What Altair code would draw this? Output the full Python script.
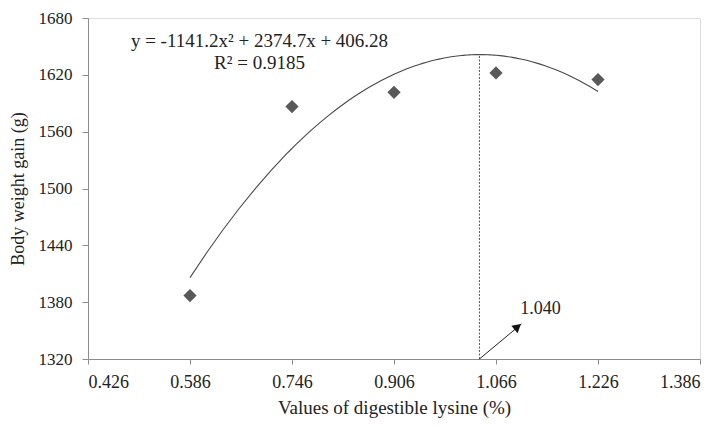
import altair as alt
import pandas as pd

# Data
lysine = [0.586, 0.746, 0.906, 1.066, 1.226]
gain = [1387, 1586.5, 1601.5, 1622, 1615]

x_ticks = [0.426, 0.586, 0.746, 0.906, 1.066, 1.226, 1.386]
y_ticks = [1320, 1380, 1440, 1500, 1560, 1620, 1680]

optimum_x = [1.040, 1.040]
optimum_y = [1320, 1642]

arrow_x = [1.040, 1.106]
arrow_y = [1320, 1357]
arrow_head_x = [1.100]
arrow_head_y = [1354]

label_x = [1.104]
label_y = [1373]
label_text = ["1.040"]

eq_x = [0.695, 0.695]
eq_y = [1656, 1633]
eq_text = ["y = -1141.2x² + 2374.7x + 406.28", "R² = 0.9185"]

FONT = "Liberation Serif"
GRAY = "#595959"

pts = pd.DataFrame({"x": lysine, "y": gain})
vline = pd.DataFrame({"x": optimum_x, "y": optimum_y})
arrow = pd.DataFrame({"x": arrow_x, "y": arrow_y})
head = pd.DataFrame({"x": arrow_head_x, "y": arrow_head_y})
lab = pd.DataFrame({"x": label_x, "y": label_y, "t": label_text})
eq = pd.DataFrame({"x": eq_x, "y": eq_y, "t": eq_text})

xs = alt.Scale(domain=[0.426, 1.386], nice=False, zero=False)
ys = alt.Scale(domain=[1320, 1680], nice=False, zero=False)

x_axis = alt.Axis(values=x_ticks, format=".3f", title="Values of digestible lysine (%)",
                  grid=False, domainColor="#8c8c8c", tickColor="#8c8c8c", tickSize=5,
                  labelFont=FONT, labelFontSize=18, labelColor="#222222",
                  titleFont=FONT, titleFontSize=19, titleFontWeight="normal", titleColor="#222222",
                  labelPadding=9, titlePadding=7)
y_axis = alt.Axis(values=y_ticks, format="d", title="Body weight gain (g)",
                  grid=False, domainColor="#8c8c8c", tickColor="#8c8c8c", tickSize=6,
                  labelFont=FONT, labelFontSize=17, labelColor="#222222",
                  titleFont=FONT, titleFontSize=18, titleFontWeight="normal", titleColor="#222222",
                  labelPadding=10, titlePadding=11)

base_pts = alt.Chart(pts)

points = base_pts.mark_point(shape="diamond", filled=True, color=GRAY, size=175, opacity=1).encode(
    x=alt.X("x:Q", scale=xs, axis=x_axis),
    y=alt.Y("y:Q", scale=ys, axis=y_axis),
)

trend = base_pts.transform_regression(
    "x", "y", method="poly", order=2, extent=[0.586, 1.226], params=False
).mark_line(color="#4a4a4a", strokeWidth=1.1).encode(
    x=alt.X("x:Q", scale=xs),
    y=alt.Y("y:Q", scale=ys),
)

vrule = alt.Chart(vline).mark_line(color="#555555", strokeWidth=1, strokeDash=[2, 1.5]).encode(
    x=alt.X("x:Q", scale=xs), y=alt.Y("y:Q", scale=ys)
)

arr = alt.Chart(arrow).mark_line(color="#222222", strokeWidth=1).encode(
    x=alt.X("x:Q", scale=xs), y=alt.Y("y:Q", scale=ys)
)

arr_head = alt.Chart(head).mark_point(shape="triangle-up", filled=True, color="#111111",
                                      size=95, angle=50, opacity=1).encode(
    x=alt.X("x:Q", scale=xs), y=alt.Y("y:Q", scale=ys)
)

lab_txt = alt.Chart(lab).mark_text(font=FONT, fontSize=18, align="left", baseline="middle",
                                   color="#222222").encode(
    x=alt.X("x:Q", scale=xs), y=alt.Y("y:Q", scale=ys), text="t:N"
)

eq_txt = alt.Chart(eq).mark_text(font=FONT, fontSize=19, align="center", baseline="middle",
                                 color="#222222").encode(
    x=alt.X("x:Q", scale=xs), y=alt.Y("y:Q", scale=ys), text="t:N"
)

chart = alt.layer(trend, vrule, arr, arr_head, points, lab_txt, eq_txt).properties(
    width=612, height=341,
    autosize=alt.AutoSizeParams(type="none"),
    padding={"left": 80, "top": 10, "right": 10, "bottom": 60},
).configure_view(stroke=None).configure(background="white")

chart.save("out.html", embed_options={"renderer": "svg", "actions": False})
